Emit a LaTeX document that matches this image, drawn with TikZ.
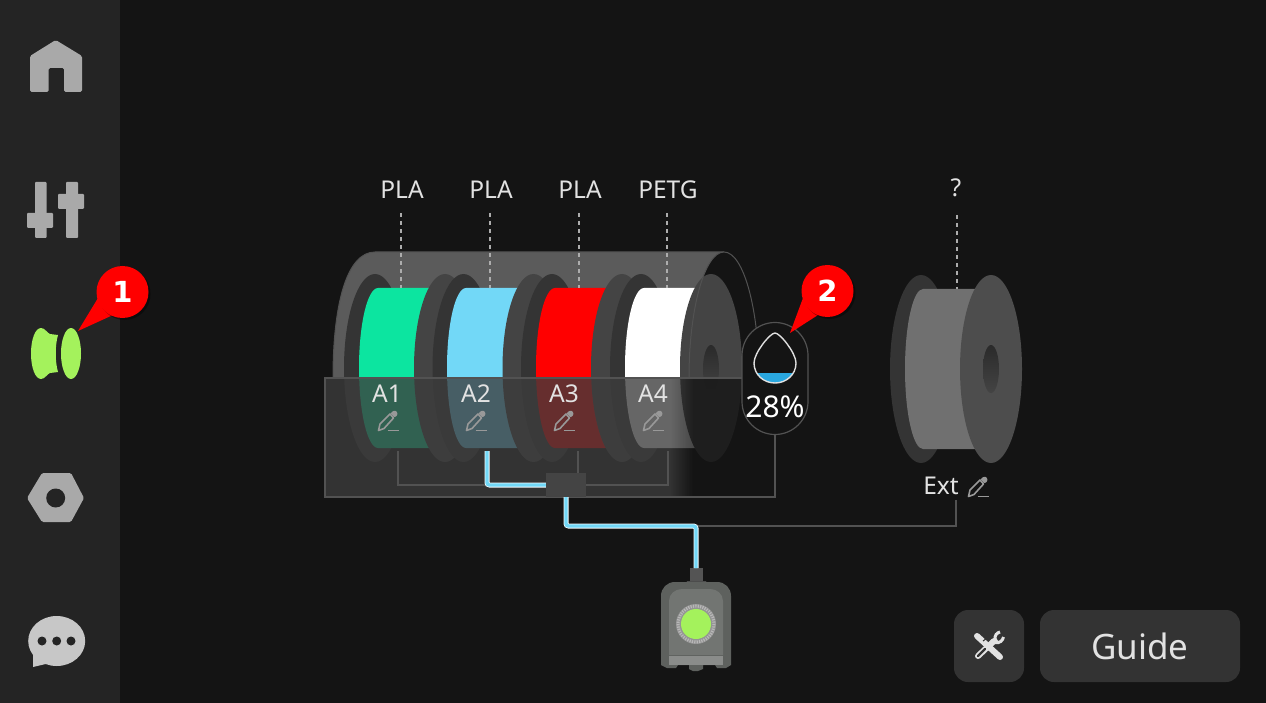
\documentclass[tikz,border=0pt]{standalone}
\usepackage{fontspec}
\setmainfont{Noto Sans}
\newfontfamily\markfont{DejaVu Sans}
\usetikzlibrary{shadows}
\definecolor{screenbg}{HTML}{141414}
\definecolor{sidebg}{HTML}{242424}
\definecolor{iconbase}{HTML}{A9A9A9}
\definecolor{limegreen}{HTML}{A4F25C}
\definecolor{backflange}{HTML}{343434}
\definecolor{frontflange}{HTML}{444444}
\definecolor{drumgray}{HTML}{5B5B5B}
\definecolor{edgegray}{HTML}{525252}
\definecolor{panelgray}{HTML}{3C3C3C}
\definecolor{fila}{HTML}{0CE5A0}
\definecolor{filb}{HTML}{72D8F7}
\definecolor{filc}{HTML}{FF0000}
\definecolor{fild}{HTML}{FFFFFF}
\definecolor{waterblue}{HTML}{2AA8E0}
\definecolor{labeltext}{HTML}{E2E2E2}
\definecolor{btngray}{HTML}{333333}
\definecolor{holetop}{HTML}{2A2A2A}
\definecolor{bodyouter}{HTML}{5E615E}
\definecolor{bodyinner}{HTML}{727572}
\definecolor{bodyband}{HTML}{8A8C8A}
\pgfdeclarehorizontalshading{panelfade}{100bp}{color(0bp)=(panelgray); color(63.3bp)=(panelgray); color(65.9bp)=(screenbg); color(100bp)=(screenbg)}
\tikzset{
  backdisc/.style={fill=backflange},
  frontdisc/.style={fill=frontflange},
  holeshade/.style={top color=holetop, bottom color=frontflange},
  dashlead/.style={draw=white!68!black, line width=1.2pt, dash pattern=on 4.5pt off 3.5pt},
  wire/.style={draw=edgegray, line width=1.8pt},
  fibreout/.style={draw=white!92!filb, line width=5pt, rounded corners=2.5pt},
  fibrein/.style={draw=filb, line width=3.4pt, rounded corners=2.5pt},
  slotlabel/.style={text=labeltext, inner sep=0pt, font=\fontsize{24.5}{27}\selectfont},
  markbubble/.style={circle, fill=red, minimum size=52pt, inner sep=0pt, text=white, font=\markfont\bfseries\fontsize{29}{31}\selectfont, drop shadow={fill=black, opacity=.4, shadow xshift=2pt, shadow yshift=-2pt}},
  pencil/.pic={
    \draw[white!60!black, line width=1.6pt, line join=round] (-9.5,9.5) -- (-8,3) -- (2,-7) -- (5.5,-3) -- (-4,7.5) -- cycle;
    \fill[white!60!black, rounded corners=1pt] (2.5,-8) -- (6,-10.5) -- (9,-9.5) -- (9.5,-6) -- (6.5,-3.5) -- cycle;
    \draw[white!60!black, line width=1.4pt] (-0.5,9.5) -- (11,9.5);
  }
}
\begin{document}
\begin{tikzpicture}[x=1pt, y=-1pt]
  \useasboundingbox (0,0) rectangle (1266,703);
  \fill[screenbg] (0,0) rectangle (1266,703);
  \fill[sidebg] (0,0) rectangle (120,703);

  % side icons
  \fill[iconbase, rounded corners=1.5pt, even odd rule] (55.7,40) -- (82,56) -- (82,92) -- (64,92) -- (64,68) -- (48.7,68) -- (48.7,92) -- (30,92) -- (30,56) -- cycle;
  \fill[iconbase, rounded corners=1pt] (35,182) rectangle (46.7,238);
  \fill[iconbase, rounded corners=1pt] (27,213) rectangle (53,228);
  \fill[iconbase, rounded corners=1pt] (66,182) rectangle (78,238);
  \fill[iconbase, rounded corners=1pt] (58,194) rectangle (84,209);
  \fill[limegreen] (41,328) .. controls (45,328) and (47,333) .. (50,334) -- (58,335) .. controls (55,345) and (55,362) .. (58,372) -- (50,373) .. controls (47,374) and (45,379) .. (41,379) .. controls (35,379) and (31,367) .. (31,353.5) .. controls (31,340) and (35,328) .. (41,328) -- cycle;
  \fill[limegreen] (71,353.5) ellipse (10 and 25.5);
  \fill[iconbase, rounded corners=1.5pt] (27,498) -- (42,473) -- (71,473) -- (84,498) -- (71,522) -- (42,522) -- cycle;
  \fill[sidebg] (55.7,498) circle (9.5);
  \fill[white!78!black] (56.7,641) ellipse (28.5 and 25);
  \fill[white!78!black] (33,650) -- (33,667) -- (50,663) -- cycle;
  \fill[sidebg] (42,641) circle (4.5);
  \fill[sidebg] (56.7,641) circle (4.5);
  \fill[sidebg] (71,641) circle (4.5);

  % drum behind the spools
  \begin{scope}
    \clip (300,240) rectangle (800,378);
    \fill[drumgray] (333,378) .. controls (333,300) and (348,252) .. (375,252) -- (724,252) -- (724,378) -- cycle;
    \draw[edgegray, line width=1pt] (333,378) .. controls (333,300) and (348,252) .. (375,252) -- (724,252);
    \fill[black!70!frontflange] (724,378) ellipse (35 and 126);
  \end{scope}

  % spools
  \fill[backdisc] (375,368) ellipse (31 and 94);
  \fill[fila] (378,288) arc[start angle=270, end angle=90, x radius=19, y radius=80] -- (450,448) -- (450,288) -- cycle;
  \fill[frontdisc] (445,368) ellipse (31 and 94);
  \fill[backdisc] (463.5,368) ellipse (31 and 94);
  \fill[filb] (466,288) arc[start angle=270, end angle=90, x radius=19, y radius=80] -- (540,448) -- (540,288) -- cycle;
  \fill[frontdisc] (533.5,368) ellipse (31 and 94);
  \fill[backdisc] (552,368) ellipse (31 and 94);
  \fill[filc] (555,288) arc[start angle=270, end angle=90, x radius=19, y radius=80] -- (630,448) -- (630,288) -- cycle;
  \fill[frontdisc] (622,368) ellipse (31 and 94);
  \fill[backdisc] (641,368) ellipse (31 and 94);
  \fill[fild] (644,288) arc[start angle=270, end angle=90, x radius=19, y radius=80] -- (720,448) -- (720,288) -- cycle;
  \fill[frontdisc] (711,368) ellipse (31 and 94);
  \shade[holeshade] (711,369) ellipse (8 and 24);
  \begin{scope}
    \clip (300,240) rectangle (800,378);
    \draw[edgegray, line width=1pt] (724,378) ellipse (35 and 126);
  \end{scope}

  % glass panel
  \shade[shading=panelfade, opacity=.78] (325,378) rectangle (775,497);
  \draw[edgegray, line width=1.5pt] (325,378) rectangle (775,497);

  % material labels
  \node[slotlabel] (matone) at (402,190) {PLA};
  \node[slotlabel] (mattwo) at (491,190) {PLA};
  \node[slotlabel] (matthree) at (580,190) {PLA};
  \node[slotlabel] (matfour) at (668,190) {PETG};
  \node[slotlabel] (matext) at (956,188) {?};
  \coordinate (dashonea) at (401,213);
  \coordinate (dashoneb) at (401,288);
  \coordinate (dashtwoa) at (490,213);
  \coordinate (dashtwob) at (490,288);
  \coordinate (dashthreea) at (579,213);
  \coordinate (dashthreeb) at (579,288);
  \coordinate (dashfoura) at (667,213);
  \coordinate (dashfourb) at (667,288);
  \coordinate (dashexta) at (957,215);
  \coordinate (dashextb) at (957,289);
  \draw[dashlead] (dashonea) -- (dashoneb);
  \draw[dashlead] (dashtwoa) -- (dashtwob);
  \draw[dashlead] (dashthreea) -- (dashthreeb);
  \draw[dashlead] (dashfoura) -- (dashfourb);
  \draw[dashlead] (dashexta) -- (dashextb);

  \node[slotlabel] (slotone) at (387,394) {A1};
  \node[slotlabel] (slottwo) at (476,394) {A2};
  \node[slotlabel] (slotthree) at (564,394) {A3};
  \node[slotlabel] (slotfour) at (653,394) {A4};
  \pic at (388,421) {pencil};
  \pic at (476,421) {pencil};
  \pic at (564,421) {pencil};
  \pic at (653,421) {pencil};

  % outside spool
  \fill[backdisc] (921,369) ellipse (31 and 94);
  \fill[white!44!black] (923,289) arc[start angle=270, end angle=90, x radius=18, y radius=80] -- (1000,449) -- (1000,289) -- cycle;
  \fill[frontflange!95!white] (991,369) ellipse (31 and 94);
  \shade[holeshade] (991,369) ellipse (8 and 24);
  \node[slotlabel] (slotext) at (941,486) {Ext};
  \pic at (978,487) {pencil};

  % hub and connectors
  \node[fill=frontflange, minimum width=40pt, minimum height=24pt, inner sep=0pt] (hub) at (566,485) {};
  \coordinate (feedone) at (398,451);
  \coordinate (elbowone) at (398,485);
  \coordinate (feedtwo) at (487,451);
  \coordinate (elbowtwo) at (487,485);
  \coordinate (feedthree) at (578,451);
  \coordinate (feedfour) at (668,451);
  \coordinate (elbowfour) at (668,485);
  \coordinate (junction) at (696,526);
  \coordinate (elbowhub) at (566,526);
  \coordinate (elbowext) at (956,526);
  \coordinate (feedext) at (956,500);
  \coordinate (panelcorner) at (775,497);
  \draw[wire] (feedone) -- (elbowone) -- (elbowtwo);
  \draw[wire] (feedthree) -- (feedthree |- hub.north);
  \draw[wire] (feedfour) -- (elbowfour) -- (hub.east |- elbowfour);
  \draw[wire] (junction) -- (elbowext) -- (feedext);

  % extruder
  \fill[white!33!black] (690,568) rectangle (703,583);
  \fill[white!30!black] (687,581) -- (706,581) -- (707,584) -- (686,584) -- cycle;
  \fill[bodyouter] (661,655) -- (661,596) .. controls (661,588) and (667,582) .. (675,582) -- (717,582) .. controls (725,582) and (731,588) .. (731,596) -- (731,665) -- (726,668) -- (717,668) -- (715,665) -- (703,665) -- (703,669) -- (698,671) -- (693,671) -- (689,669) -- (689,665) -- (678,665) -- (676,668) -- (667,668) -- (661,665) -- cycle;
  \fill[bodyinner] (669,655) -- (669,601) .. controls (669,594) and (675,589) .. (682,589) -- (710,589) .. controls (717,589) and (723,594) .. (723,601) -- (723,655) -- cycle;
  \fill[bodyband] (669,656) rectangle (723,665);
  \fill[white!58!black] (696,624) circle (20);
  \draw[white!72!black, line width=3pt, dash pattern=on 1.2pt off 1.2pt] (696,624) circle (18);
  \node[circle, fill=limegreen, minimum size=30pt, inner sep=0pt] (nozzle) at (696,624) {};

  \draw[fibreout] (feedtwo) -- (elbowtwo) -- (hub.west |- elbowtwo);
  \draw[fibrein] (feedtwo) -- (elbowtwo) -- (hub.west |- elbowtwo);
  \draw[fibreout] (hub.south) -- (elbowhub) -- (junction) -- ++(0,42);
  \draw[fibrein] (hub.south) -- (elbowhub) -- (junction) -- ++(0,42);

  % humidity badge
  \node[draw=edgegray, fill=screenbg, line width=1.2pt, rounded corners=33pt, minimum width=66pt, minimum height=112pt, inner sep=0pt] (badge) at (775,378.5) {};
  \draw[wire] (badge.south) -- (panelcorner);
  \begin{scope}
    \clip (745,373) rectangle (805,390);
    \fill[waterblue] (775,333) .. controls (770,333) and (754,353) .. (754,363) .. controls (754,375) and (764,383) .. (775,383) .. controls (786,383) and (796,375) .. (796,363) .. controls (796,353) and (780,333) .. (775,333) -- cycle;
  \end{scope}
  \draw[white!88!black, line width=1.4pt] (775,333) .. controls (770,333) and (754,353) .. (754,363) .. controls (754,375) and (764,383) .. (775,383) .. controls (786,383) and (796,375) .. (796,363) .. controls (796,353) and (780,333) .. (775,333) -- cycle;
  \node[text=white, inner sep=0pt, font=\fontsize{30}{32}\selectfont] (humidity) at (775,407) {28\%};

  % buttons
  \node[fill=btngray, rounded corners=14pt, minimum width=70pt, minimum height=72pt, inner sep=0pt] (toolbtn) at (989,646) {};
  \node[fill=btngray, rounded corners=14pt, minimum width=200pt, minimum height=72pt, inner sep=0pt, text=labeltext, font=\fontsize{35}{37}\selectfont] (guidebtn) at (1140,646) {Guide};
  \draw[labeltext, line width=6pt, line cap=round] (977,636) -- (1000,657);
  \draw[btngray, line width=1pt] (983,641) -- (987,638);
  \draw[labeltext, line width=6pt, line cap=round] (978,656) -- (994,641);
  \draw[btngray, line width=2.4pt, line cap=round] (978,656) -- (985,649);
  \draw[labeltext, line width=3pt] (1000,632) arc[start angle=-100, end angle=-230, radius=6];
  \draw[labeltext, line width=3pt] (1003.5,637) arc[start angle=10, end angle=130, radius=7];

  % callouts
  \fill[red] (98,298) -- (78,331) -- (113,315) -- cycle;
  \node[markbubble] (markone) at (122.5,292) {1};
  \fill[red] (803,298) -- (790,333) -- (818,315) -- cycle;
  \node[markbubble] (marktwo) at (827.5,291) {2};
\end{tikzpicture}
\end{document}
